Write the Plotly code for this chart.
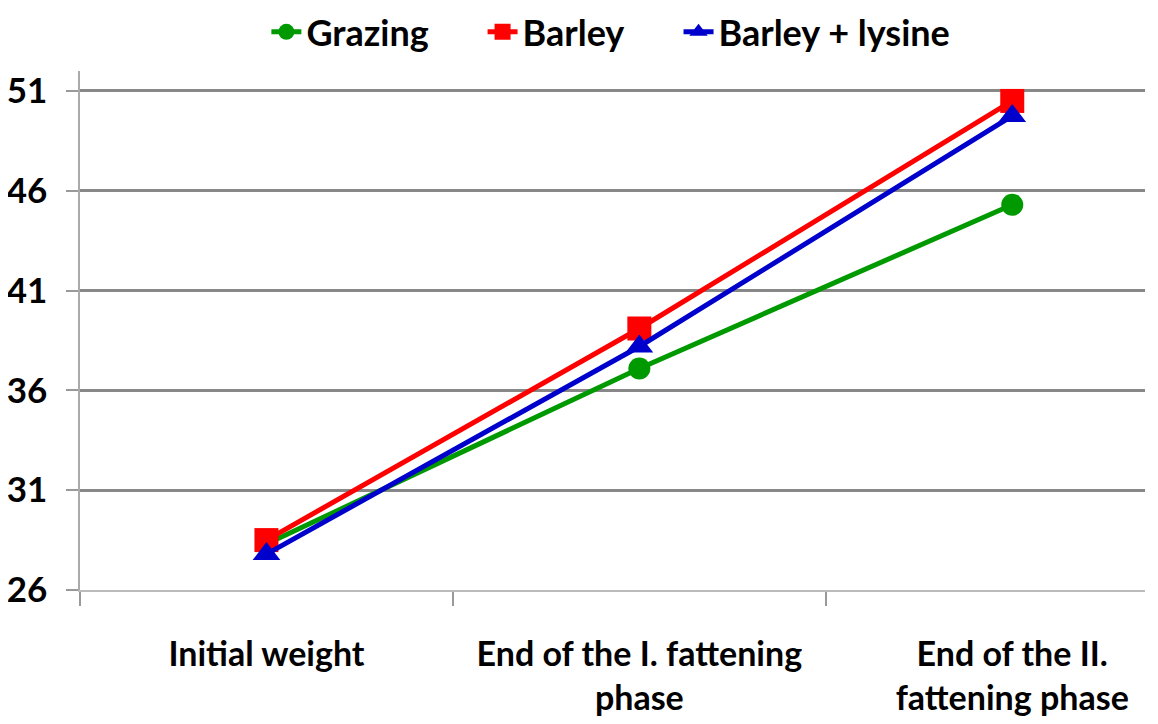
import plotly.graph_objects as go

categories = ["Initial weight", "End of the I. fattening<br>phase", "End of the II.<br>fattening phase"]
grazing = [28.3, 37.1, 45.3]
barley = [28.5, 39.1, 50.5]
barley_lysine = [27.8, 38.2, 49.75]
y_ticks = [26, 31, 36, 41, 46, 51]

FONT = "Lato"
series = [
    ("Grazing", grazing, "#009A00", "circle", 22, "legend", 0.175),
    ("Barley", barley, "#FF0000", "square", 24, "legend2", 0.378),
    ("Barley + lysine", barley_lysine, "#0000CC", "triangle-up", 24, "legend3", 0.562),
]

fig = go.Figure()
legend_layout = {}
for name, vals, color, sym, size, leg, lx in series:
    fig.add_trace(go.Scatter(
        x=categories, y=vals, name=name, mode="lines+markers",
        line=dict(color=color, width=5),
        marker=dict(symbol=sym, size=size, color=color),
        legend=leg,
    ))
    legend_layout[leg] = dict(
        orientation="h", x=lx, xref="paper", xanchor="left",
        y=0.967, yref="container", yanchor="middle",
        bgcolor="rgba(0,0,0,0)",
        font=dict(family=FONT, size=36, color="black", weight="bold"),
    )

fig.update_layout(
    width=1158, height=724,
    margin=dict(l=72, r=21, t=63, b=142),
    paper_bgcolor="white", plot_bgcolor="white",
    font=dict(family=FONT, size=35, color="black", weight="bold"),
    showlegend=True,
    **legend_layout,
)
fig.update_xaxes(
    type="category", range=[-0.5, 2.356], automargin=False,
    tickson="boundaries", ticks="outside", ticklen=14, tickwidth=1.5, tickcolor="#999999",
    showline=True, linecolor="#BBBBBB", linewidth=2,
    showgrid=False, ticklabelstandoff=33,
    tickfont=dict(family=FONT, size=34, color="black", weight="bold"),
)
fig.update_yaxes(
    range=[26, 52], tickvals=y_ticks, automargin=False,
    ticks="outside", ticklen=12, tickwidth=1.5, tickcolor="#999999",
    showline=True, linecolor="#AAAAAA", linewidth=1.5,
    showgrid=True, gridcolor="#888888", gridwidth=3,
    zeroline=False, ticklabelstandoff=12,
    tickfont=dict(family=FONT, size=35, color="black", weight="bold"),
)
fig.write_html("out.html")
